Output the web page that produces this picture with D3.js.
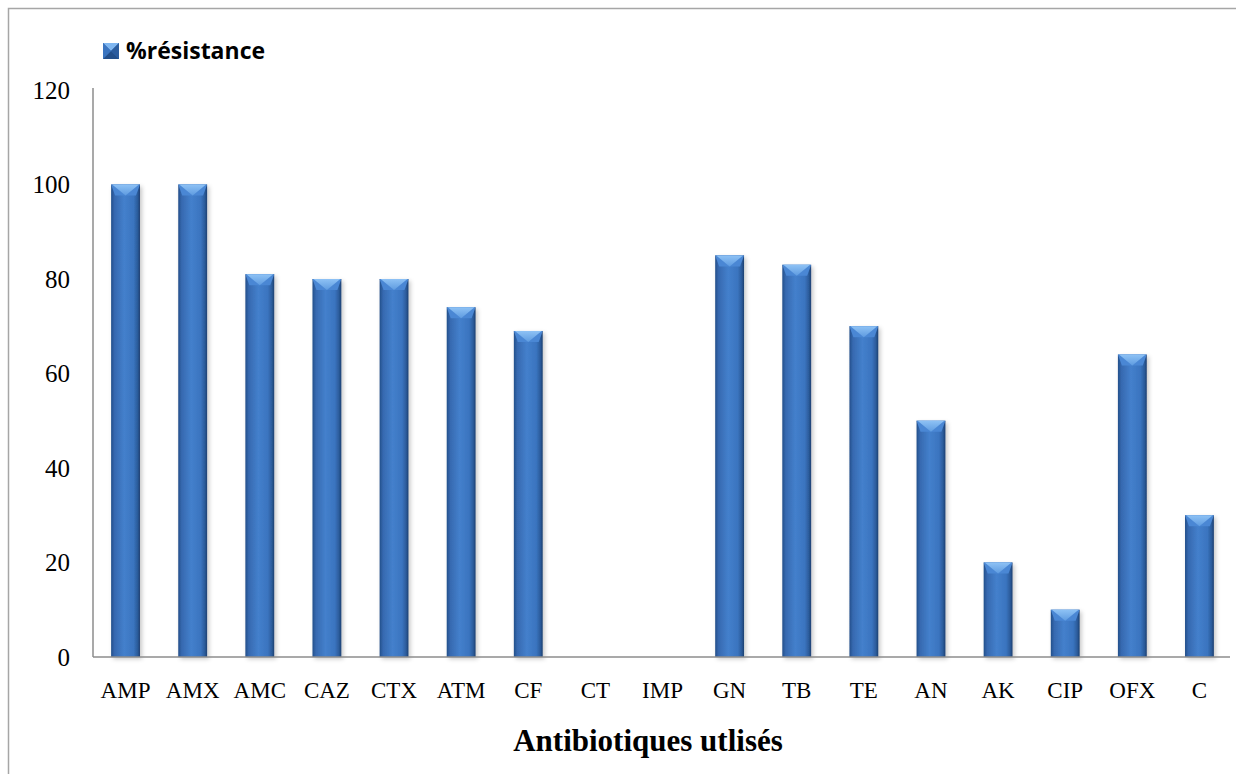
<!DOCTYPE html>
<html>
<head>
<meta charset="utf-8">
<script src="https://cdn.jsdelivr.net/npm/d3@7"></script>
<style>
  html, body { margin: 0; padding: 0; background: #fff; }
  svg { display: block; }
</style>
</head>
<body>
<svg id="chart" width="1236" height="774"></svg>
<script>
// Antibiotic resistance rates (%)
const categories = ["AMP","AMX","AMC","CAZ","CTX","ATM","CF","CT","IMP","GN","TB","TE","AN","AK","CIP","OFX","C"];
const resistance = [100, 100, 81, 80, 80, 74, 69, 0, 0, 85, 83, 70, 50, 20, 10, 64, 30];
const yTicks = [0, 20, 40, 60, 80, 100, 120];
const seriesName = "%résistance";
const xTitle = "Antibiotiques utlisés";

const svg = d3.select("#chart");
const W = 1236, H = 774;
const margin = { left: 93, right: 4, top: 90, bottom: 117 };

// Outer chart frame
svg.append("rect")
  .attr("x", 8.5).attr("y", 8.5)
  .attr("width", W + 20).attr("height", H + 20)
  .attr("fill", "none").attr("stroke", "#a6a6a6").attr("stroke-width", 1.5);

const x = d3.scaleBand()
  .domain(categories)
  .range([margin.left, W - margin.right])
  .paddingInner(0.57).paddingOuter(0.27);

const y = d3.scaleLinear()
  .domain([0, 120])
  .range([H - margin.bottom, margin.top]);

const defs = svg.append("defs");
const grad = defs.append("linearGradient").attr("id", "barGrad")
  .attr("x1", "0%").attr("x2", "100%").attr("y1", "0%").attr("y2", "0%");
[["0%", "#234f8a"], ["12%", "#3669b0"], ["45%", "#4480cc"], ["78%", "#3a74bf"], ["92%", "#2b5b9a"], ["100%", "#1c3f70"]]
  .forEach(([o, c]) => grad.append("stop").attr("offset", o).attr("stop-color", c));

const capGrad = defs.append("linearGradient").attr("id", "capGrad")
  .attr("x1", "0%").attr("x2", "0%").attr("y1", "0%").attr("y2", "100%");
[["0%", "#8ec2f5"], ["100%", "#5e9be0"]]
  .forEach(([o, c]) => capGrad.append("stop").attr("offset", o).attr("stop-color", c));

const shadow = defs.append("filter").attr("id", "shadow")
  .attr("x", "-30%").attr("y", "-10%").attr("width", "160%").attr("height", "130%");
shadow.append("feDropShadow").attr("dx", 2).attr("dy", 2).attr("stdDeviation", 2)
  .attr("flood-color", "#000").attr("flood-opacity", 0.22);

// Bars
const data = categories.map((c, i) => ({ c, v: resistance[i] }));
const bars = svg.append("g").selectAll("g.bar")
  .data(data.filter(d => d.v > 0))
  .join("g").attr("class", "bar");

bars.append("rect")
  .attr("x", d => x(d.c))
  .attr("y", d => y(d.v))
  .attr("width", x.bandwidth())
  .attr("height", d => y(0) - y(d.v))
  .attr("fill", "url(#barGrad)")
  .attr("filter", "url(#shadow)");

// Bevelled top of each bar
const capH = 11;
bars.append("path")
  .attr("d", d => {
    const x0 = x(d.c), x1 = x0 + x.bandwidth(), t = y(d.v);
    return `M${x0},${t}L${x1},${t}L${x1 - 4},${t + capH}L${x0 + 4},${t + capH}Z`;
  })
  .attr("fill", "#4a87d4");
bars.append("path")
  .attr("d", d => {
    const x0 = x(d.c), x1 = x0 + x.bandwidth(), t = y(d.v), m = (x0 + x1) / 2;
    return `M${x0 + 1},${t}L${x1 - 1},${t}L${m},${t + capH}Z`;
  })
  .attr("fill", "url(#capGrad)");

// Axes
const axisColor = "#8c8c8c";
svg.append("line")
  .attr("x1", margin.left).attr("x2", margin.left)
  .attr("y1", y(120) - 2).attr("y2", y(0))
  .attr("stroke", axisColor).attr("stroke-width", 1.5);
svg.append("line")
  .attr("x1", margin.left).attr("x2", W - margin.right - 2)
  .attr("y1", y(0)).attr("y2", y(0))
  .attr("stroke", axisColor).attr("stroke-width", 1.5);

svg.append("g").selectAll("text")
  .data(yTicks).join("text")
  .attr("x", 70).attr("y", d => y(d))
  .attr("dy", "0.35em")
  .attr("text-anchor", "end")
  .attr("font-family", "Liberation Serif, Times New Roman, serif")
  .attr("font-size", 25)
  .attr("fill", "#000")
  .text(d => d);

svg.append("g").selectAll("text")
  .data(categories).join("text")
  .attr("x", d => x(d) + x.bandwidth() / 2)
  .attr("y", 698)
  .attr("text-anchor", "middle")
  .attr("font-family", "Liberation Serif, Times New Roman, serif")
  .attr("font-size", 23)
  .attr("fill", "#000")
  .text(d => d);

svg.append("text")
  .attr("x", 648).attr("y", 751)
  .attr("text-anchor", "middle")
  .attr("font-family", "Liberation Serif, Times New Roman, serif")
  .attr("font-weight", "bold")
  .attr("font-size", 31)
  .attr("fill", "#000")
  .text(xTitle);

// Legend
const lg = svg.append("g").attr("transform", "translate(103,43)");
const s = 16;
lg.append("rect").attr("width", s).attr("height", s).attr("fill", "#2f62a6");
lg.append("path").attr("d", `M0,0L${s},0L${s / 2},${s / 2}Z`).attr("fill", "#7fb6f0");
lg.append("path").attr("d", `M0,${s}L${s},${s}L${s / 2},${s / 2}Z`).attr("fill", "#234f8a");
lg.append("path").attr("d", `M0,0L0,${s}L${s / 2},${s / 2}Z`).attr("fill", "#3a74c0");
lg.append("path").attr("d", `M${s},0L${s},${s}L${s / 2},${s / 2}Z`).attr("fill", "#2b5c9e");
lg.append("text")
  .attr("x", 23).attr("y", 16)
  .attr("font-family", "Open Sans, Liberation Sans, sans-serif")
  .attr("font-weight", "bold")
  .attr("font-size", 23)
  .attr("fill", "#000")
  .text(seriesName);
</script>
</body>
</html>
